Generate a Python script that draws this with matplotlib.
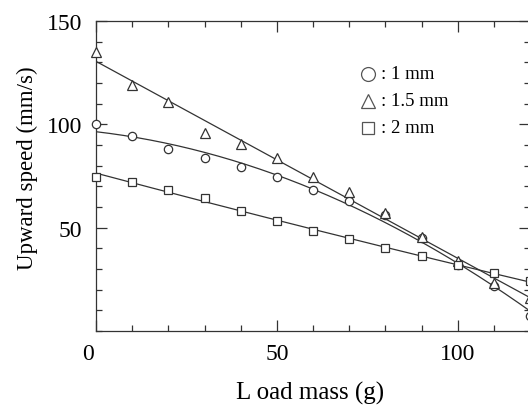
import numpy as np
import matplotlib
matplotlib.use("Agg")
import matplotlib.pyplot as plt
import matplotlib.transforms as mtransforms
from matplotlib.ticker import MultipleLocator

load = [0, 10, 20, 30, 40, 50, 60, 70, 80, 90, 100, 110, 120]
speed_1mm = [100, 94.2, 88, 83.5, 79.5, 74.7, 68.3, 63.1, 56, 45, 32, 21.8, 7.4]
speed_15mm = [135, 119, 111, 95.8, 90.7, 83.5, 74.7, 67.5, 57, 45.5, 33.8, 23.4, 16.2]
speed_2mm = [74.7, 72.3, 68.3, 64.3, 58, 53, 48.6, 44.6, 40.2, 36.2, 31.7, 27.9, 24.2]
labels = [": 1 mm", ": 1.5 mm", ": 2 mm"]

plt.rcParams['font.family'] = ['Liberation Serif', 'DejaVu Serif']

fig = plt.figure(figsize=(5.28, 4.10), dpi=100)
ax = fig.add_axes([96/528, 78/410, (530-96)/528, 310/410])

x = np.array(load, dtype=float)
xf = np.linspace(0, 125, 200)
series = [(speed_1mm, 'o', 2, 6), (speed_15mm, '^', 1, 7), (speed_2mm, 's', 2, 6)]
for ys, m, deg, ms in series:
    ys = np.array(ys, dtype=float)
    c = np.polyfit(x, ys, deg)
    ax.plot(xf, np.polyval(c, xf), color='#333333', lw=0.9, zorder=2)
    ax.plot(x, ys, linestyle='none', marker=m, ms=ms, mfc='white',
            mec='#333333', mew=0.9, zorder=3, clip_on=False)

ax.set_xlim(0, 120)
ax.set_ylim(0, 150)
ax.xaxis.set_minor_locator(MultipleLocator(10))
ax.yaxis.set_minor_locator(MultipleLocator(10))
ax.set_yticks([50, 100, 150])
ax.set_xticks([0, 50, 100])
ax.tick_params(which='both', direction='in', top=True, right=True,
               labelsize=17, width=0.9, color='#333333')
ax.tick_params(which='major', length=8)
ax.tick_params(axis='y', which='major', pad=10)
ax.tick_params(axis='x', which='major', pad=9)
ax.tick_params(which='minor', length=4)
for s in ax.spines.values():
    s.set_linewidth(0.9)
    s.set_color('#333333')

# shift x tick label "0" slightly left as in reference
fig.canvas.draw()
lbl0 = ax.get_xticklabels()[0]
lbl0.set_transform(lbl0.get_transform() + mtransforms.ScaledTranslation(-8/100, 0, fig.dpi_scale_trans))

fig.text(310/528, 1 - 393/410, "L oad mass (g)", fontsize=18, ha='center', va='center')
fig.text(27/528, 1 - 168/410, "Upward speed (mm/s)", fontsize=16.5, ha='center', va='center',
         rotation=90)

# legend
markers = ['o', '^', 's']
ys_leg = [75, 101.5, 128.5]
for m, yy, lab in zip(markers, ys_leg, labels):
    fig.lines.append(plt.Line2D([368/528], [1 - yy/410], marker=m, ms=10 if m != 's' else 9,
                                mfc='white', mec='#555555', mew=0.9,
                                transform=fig.transFigure, linestyle='none'))
    fig.text(381/528, 1 - yy/410, lab, fontsize=13.5, va='center', ha='left')

fig.savefig("out.png", dpi=100)
